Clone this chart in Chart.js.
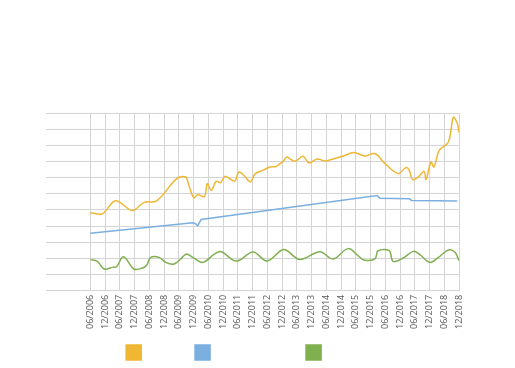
<!DOCTYPE html>
<html>
<head>
<meta charset="utf-8">
<script src="https://cdn.jsdelivr.net/npm/chart.js@4/dist/chart.umd.min.js"></script>
<style>
  html, body { margin: 0; padding: 0; background: #fff; }
  #wrap { width: 515px; height: 368px; }
</style>
</head>
<body>
<div id="wrap"><canvas id="chart"></canvas></div>
<script>
// x positions are months counted from 06/2006
const tickLabels = ['06/2006', '12/2006', '06/2007', '12/2007', '06/2008', '12/2008', '06/2009', '12/2009',
  '06/2010', '12/2010', '06/2011', '12/2011', '06/2012', '12/2012', '06/2013', '12/2013', '06/2014',
  '12/2014', '06/2015', '12/2015', '06/2016', '12/2016', '06/2017', '12/2017', '06/2018', '12/2018'];

// legend text is not visible in the reference, names only keep the spacing
const seriesNames = ['Raw data', 'Trend (regression)', 'Seasonality'];

const observedMonths = [0, 4.9, 10.3, 17.1, 21.9, 27.0, 35.2, 38.9, 39.7, 42.1, 43.7, 46.5, 47.6, 49.2,
  51.2, 53.0, 54.9, 58.7, 60.5, 63.1, 65.2, 67.1, 70.2, 73.0, 75.7, 78.8, 80.0, 83.2, 86.5, 89.0, 92.3,
  95.4, 98.8, 102.9, 107.2, 111.7, 115.8, 119.9, 125.3, 128.4, 129.8, 131.1, 133.4, 135.8, 136.6, 138.6,
  139.8, 142.0, 145.7, 147.7, 149.3, 150];
const observedValues = [48.3, 47.6, 55.7, 49.7, 54.7, 55.7, 69.4, 70.4, 67.3, 57.6, 59.4, 58.4, 66.3, 62.1,
  67.7, 66.9, 70.8, 67.9, 73.5, 70.4, 67.3, 72.5, 74.5, 76.6, 77.0, 80.7, 82.8, 80.1, 83.2, 79.1, 81.6,
  80.3, 81.6, 83.4, 85.5, 83.4, 84.9, 78.7, 72.5, 76.2, 74.5, 68.8, 70.4, 73.9, 68.8, 79.7,
  76.6, 87.0, 92.1, 107.3, 103.5, 98.0];

const trendMonths = [0, 41.7, 42.8, 43.7, 45.1, 116.7, 117.8, 130.0, 130.7, 149.3];
const trendValues = [35.6, 42.1, 41.5, 40.2, 44.1, 59.0, 57.3, 56.9, 55.9, 55.5];

const seasonalMonths = [0, 2.9, 5.6, 9.0, 10.7, 13.5, 17.8, 21.2, 23.0, 24.6, 28.0, 30.7, 34.1, 36.8, 39.1,
  41.7, 45.8, 50.6, 53.3, 59.4, 66.2, 72.0, 78.7, 85.2, 93.4, 98.8, 104.9, 109.0, 111.3, 115.8, 117.1,
  121.6, 123.2, 127.3, 131.4, 134.1, 138.2, 141.6, 145.7, 148.4, 150];
const seasonalValues = [19.3, 18.2, 13.5, 14.5, 14.9, 21.1, 13.5, 14.1, 16.0, 20.7, 20.7, 17.6, 16.6, 19.7, 22.8,
  20.7, 17.6, 22.8, 24.2, 18.4, 24.0, 18.4, 25.5, 19.4, 24.2, 19.7, 26.1, 21.7, 19.1, 19.7, 24.8,
  24.8, 18.2, 20.3, 24.4, 22.4, 17.6, 20.7, 25.3, 23.8, 18.6];

const colors = ['#EFB734', '#7BAFE0', '#7FB050'];

function toPoints(xs, ys) {
  return xs.map((x, i) => ({ x: x, y: ys[i] }));
}

const ctx = document.getElementById('chart').getContext('2d');
new Chart(ctx, {
  type: 'line',
  data: {
    datasets: [
      { label: seriesNames[0], data: toPoints(observedMonths, observedValues), borderColor: colors[0], backgroundColor: colors[0], tension: 0.35 },
      { label: seriesNames[1], data: toPoints(trendMonths, trendValues), borderColor: colors[1], backgroundColor: colors[1], tension: 0 },
      { label: seriesNames[2], data: toPoints(seasonalMonths, seasonalValues), borderColor: colors[2], backgroundColor: colors[2], tension: 0.35 }
    ]
  },
  options: {
    responsive: true,
    maintainAspectRatio: false,
    animation: false,
    elements: {
      point: { radius: 0, hoverRadius: 0 },
      line: { borderWidth: 1.5, fill: false }
    },
    layout: { padding: { top: 113, left: 46, right: 56, bottom: -2 } },
    plugins: {
      tooltip: { enabled: false },
      legend: {
        position: 'bottom',
        labels: {
          boxWidth: 15,
          boxHeight: 15,
          padding: 6,
          color: 'rgba(0,0,0,0)',
          font: { family: 'Open Sans', size: 10 }
        }
      }
    },
    scales: {
      x: {
        type: 'linear',
        min: -18,
        max: 150,
        afterBuildTicks: (axis) => {
          axis.ticks = tickLabels.map((_, i) => ({ value: i * 6 }));
        },
        afterFit: (axis) => { axis.height += 6; },
        grid: { color: '#d4d4d4', drawTicks: false },
        border: { display: false },
        ticks: {
          autoSkip: false,
          maxRotation: 90,
          minRotation: 90,
          padding: 4,
          color: '#595959',
          font: { family: 'Open Sans', size: 9 },
          callback: (value) => tickLabels[value / 6]
        }
      },
      y: {
        min: 0,
        max: 110,
        grid: { color: '#d4d4d4', drawTicks: false },
        border: { display: false },
        ticks: { display: false, stepSize: 10 }
      }
    }
  }
});
</script>
</body>
</html>
